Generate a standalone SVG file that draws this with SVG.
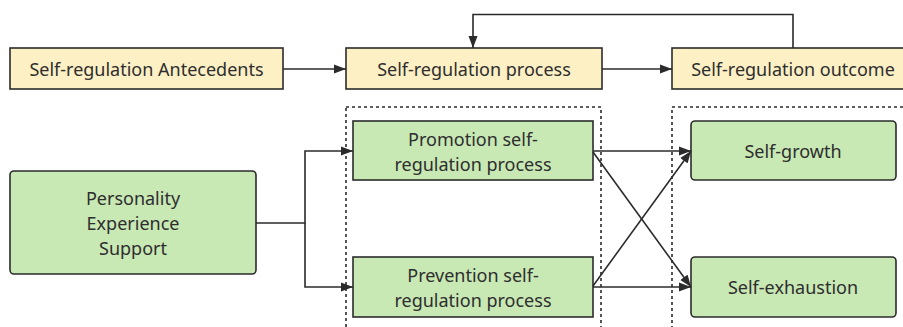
<svg xmlns="http://www.w3.org/2000/svg" width="903" height="327" viewBox="0 0 903 327">
<style>
.y{fill:#fdf0c4;stroke:#2b2b2b;stroke-width:1.6}
.g{fill:#c8e8b4;stroke:#2b2b2b;stroke-width:1.6}
.t{font-family:"Noto Sans","Open Sans",sans-serif;font-size:18px;fill:#2e2e2e;text-anchor:middle;dominant-baseline:central}
.c{fill:none;stroke:#2b2b2b;stroke-width:1.6}
.d{fill:none;stroke:#2b2b2b;stroke-width:1.6;stroke-dasharray:3 3}
</style>
<defs>
<marker id="a" viewBox="0 0 12 10" refX="12" refY="5" markerWidth="12" markerHeight="10" markerUnits="userSpaceOnUse" orient="auto">
<path d="M0,0.5 L12,5 L0,9.5 Z" fill="#2b2b2b"/>
</marker>
</defs>
<rect x="0" y="0" width="903" height="327" fill="#ffffff"/>
<g id="groups">
<rect class="d" x="346" y="107" width="255" height="230"/>
<rect class="d" x="672" y="107" width="250" height="230"/>
</g>
<g id="antecedents"><rect class="y" x="10" y="48" width="273" height="41"/><text class="t" x="146.5" y="69">Self-regulation Antecedents</text></g>
<g id="process"><rect class="y" x="346" y="48" width="256" height="41"/><text class="t" x="474" y="69">Self-regulation process</text></g>
<g id="outcome"><rect class="y" x="672" y="48" width="240" height="41"/><text class="t" x="793" y="69">Self-regulation outcome</text></g>
<g id="personality"><rect class="g" x="10" y="171" width="246" height="103" rx="4"/><text class="t" x="133" y="198">Personality</text><text class="t" x="133" y="223">Experience</text><text class="t" x="133" y="248">Support</text></g>
<g id="promotion"><rect class="g" x="353" y="121" width="240" height="59"/><text class="t" x="473" y="138.5">Promotion self-</text><text class="t" x="473" y="163.5">regulation process</text></g>
<g id="prevention"><rect class="g" x="353" y="257" width="240" height="60"/><text class="t" x="473" y="274.5">Prevention self-</text><text class="t" x="473" y="299.5">regulation process</text></g>
<g id="growth"><rect class="g" x="691" y="121" width="205" height="59" rx="4"/><text class="t" x="793" y="151">Self-growth</text></g>
<g id="exhaustion"><rect class="g" x="691" y="257" width="205" height="60" rx="4"/><text class="t" x="793" y="287">Self-exhaustion</text></g>
<g id="connectors">
<path class="c" d="M283,69 H346" marker-end="url(#a)"/>
<path class="c" d="M602,69 H672" marker-end="url(#a)"/>
<path class="c" d="M793,48 V14.5 H473 V48" marker-end="url(#a)"/>
<path class="c" d="M256,223 H305 V151 H353" marker-end="url(#a)"/>
<path class="c" d="M305,223 V287 H353" marker-end="url(#a)"/>
<path class="c" d="M593,151 H691" marker-end="url(#a)"/>
<path class="c" d="M593,152 L691,287" marker-end="url(#a)"/>
<path class="c" d="M593,287 H691" marker-end="url(#a)"/>
<path class="c" d="M593,286 L691,151" marker-end="url(#a)"/>
</g>
</svg>
